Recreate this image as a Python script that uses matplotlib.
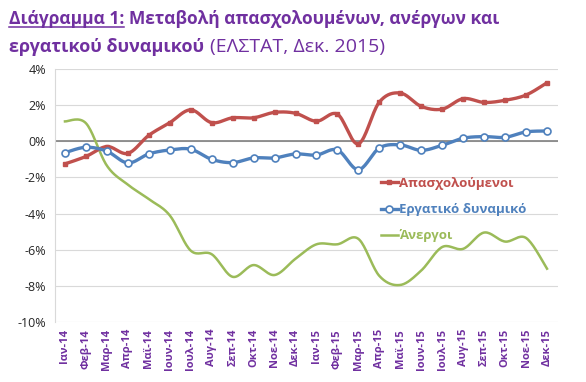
import matplotlib
matplotlib.use("Agg")
import matplotlib.pyplot as plt
from matplotlib.lines import Line2D
from matplotlib.ticker import FuncFormatter
import numpy as np

plt.rcParams['font.family'] = ['Open Sans', 'DejaVu Sans']

months = ['Ιαν-14', 'Φεβ-14', 'Μαρ-14', 'Απρ-14', 'Μαϊ-14', 'Ιουν-14', 'Ιουλ-14', 'Αυγ-14',
          'Σεπ-14', 'Οκτ-14', 'Νοε-14', 'Δεκ-14', 'Ιαν-15', 'Φεβ-15', 'Μαρ-15', 'Απρ-15',
          'Μαϊ-15', 'Ιουν-15', 'Ιουλ-15', 'Αυγ-15', 'Σεπ-15', 'Οκτ-15', 'Νοε-15', 'Δεκ-15']

employed = [-1.25, -0.84, -0.29, -0.67, 0.33, 1.03, 1.74, 1.03, 1.30, 1.30, 1.60, 1.55,
            1.11, 1.50, -0.14, 2.17, 2.67, 1.93, 1.78, 2.36, 2.15, 2.27, 2.56, 3.24]
labour_force = [-0.63, -0.33, -0.55, -1.20, -0.70, -0.48, -0.44, -1.00, -1.18, -0.92, -0.92, -0.70,
                -0.76, -0.48, -1.57, -0.37, -0.20, -0.50, -0.22, 0.17, 0.26, 0.22, 0.52, 0.57]
unemployed = [1.10, 1.00, -1.35, -2.40, -3.20, -4.10, -6.05, -6.25, -7.50, -6.85, -7.40, -6.50,
              -5.70, -5.70, -5.40, -7.45, -7.95, -7.15, -5.85, -5.95, -5.05, -5.55, -5.35, -7.05]

labels = ['Απασχολούμενοι', 'Εργατικό δυναμικό', 'Άνεργοι']
colors = ['#C0504D', '#4F81BD', '#9BBB59']
purple = '#7030A0'


def smooth(y, steps=20):
    # Excel-like smoothed line: cubic Bezier through the points
    y = np.asarray(y, dtype=float)
    x = np.arange(len(y), dtype=float)
    pts = np.column_stack([x, y])
    out = [pts[0]]
    t = np.linspace(0, 1, steps)[1:, None]
    for i in range(len(pts) - 1):
        p0 = pts[max(i - 1, 0)]
        p1 = pts[i]
        p2 = pts[i + 1]
        p3 = pts[min(i + 2, len(pts) - 1)]
        c1 = p1 + (p2 - p0) / 6
        c2 = p2 - (p3 - p1) / 6
        seg = ((1 - t) ** 3) * p1 + 3 * ((1 - t) ** 2) * t * c1 + 3 * (1 - t) * t ** 2 * c2 + t ** 3 * p2
        out.extend(seg)
    out = np.array(out)
    return out[:, 0], out[:, 1]


fig = plt.figure(figsize=(5.86, 3.82), dpi=100)
ax = fig.add_axes([54.5 / 586, 1 - 322 / 382, 503 / 586, 253 / 382])

x = np.arange(len(months))

sx, sy = smooth(employed)
ax.plot(sx, sy, color=colors[0], lw=2.4, zorder=4, solid_capstyle='round')
ax.plot(x, employed, ls='none', marker='s', ms=3.2, color=colors[0], zorder=5)

sx, sy = smooth(labour_force)
ax.plot(sx, sy, color=colors[1], lw=2.4, zorder=4, solid_capstyle='round')
ax.plot(x, labour_force, ls='none', marker='o', ms=5, mfc='white', mec=colors[1], mew=1.2, zorder=5)

sx, sy = smooth(unemployed)
ax.plot(sx, sy, color=colors[2], lw=1.8, zorder=3)

ax.set_xlim(-0.5, len(months) - 0.5)
ax.set_ylim(-10, 4)
ax.set_yticks(np.arange(-10, 5, 2))
ax.yaxis.set_major_formatter(FuncFormatter(lambda v, p: f'{v:.0f}%'))
ax.set_xticks(x)
ax.set_xticklabels(months, rotation=90, color=purple, fontweight='bold', fontsize=8)
ax.tick_params(axis='y', labelsize=9, length=0, pad=6, labelcolor='#262626')
ax.tick_params(axis='x', length=0, pad=5)

ax.grid(axis='y', color='#D9D9D9', lw=0.8)
ax.set_axisbelow(True)
ax.axhline(0, color='#808080', lw=1.2, zorder=2)
for s in ['top', 'right', 'bottom']:
    ax.spines[s].set_visible(False)
ax.spines['left'].set_color('#D9D9D9')

handles = [
    Line2D([], [], color=colors[0], lw=2.4, marker='s', ms=3.2),
    Line2D([], [], color=colors[1], lw=2.4, marker='o', ms=5, mfc='white', mec=colors[1], mew=1.2),
    Line2D([], [], color=colors[2], lw=1.8),
]
leg = ax.legend(handles, labels, loc='upper left', bbox_to_anchor=(0.625, 0.62), frameon=False,
                handlelength=1.3, handletextpad=0.1, labelspacing=1.0, fontsize=9.5)
for t, c in zip(leg.get_texts(), colors):
    t.set_color(c)
    t.set_fontweight('bold')

# title in pieces (underlined first part)
fig.canvas.draw()
renderer = fig.canvas.get_renderer()


def put(xpx, ypx, s, weight, size):
    t = fig.text(xpx / 586, 1 - ypx / 382, s, color=purple, fontsize=size, fontweight=weight,
                 ha='left', va='baseline')
    bb = t.get_window_extent(renderer)
    return t, bb


t1, bb1 = put(9, 24, 'Διάγραμμα 1:', 'bold', 12.5)
fig.add_artist(Line2D([bb1.x0 / 586, bb1.x1 / 586], [1 - 27 / 382, 1 - 27 / 382], color=purple, lw=1.1))
t2, bb2 = put(bb1.x1 + 5, 24, 'Μεταβολή απασχολουμένων, ανέργων και', 'bold', 12.5)
t3, bb3 = put(9, 52, 'εργατικού δυναμικού', 'bold', 13)
t4, bb4 = put(bb3.x1 + 6, 52, '(ΕΛΣΤΑΤ, Δεκ. 2015)', 'normal', 14)

fig.savefig('out.png', dpi=100)
